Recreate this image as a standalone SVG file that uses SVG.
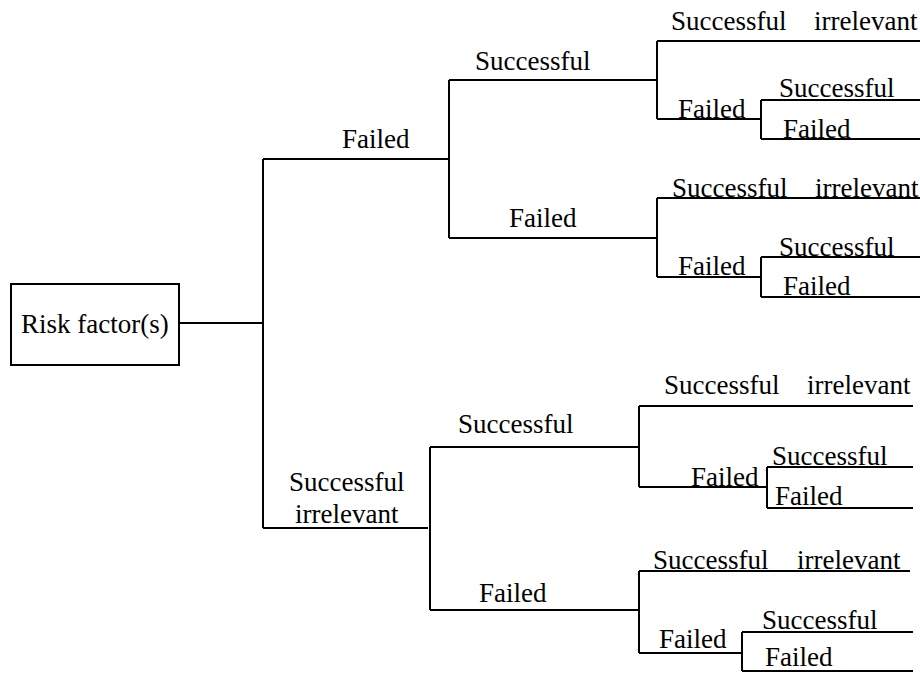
<svg xmlns="http://www.w3.org/2000/svg" width="920" height="673" viewBox="0 0 920 673">
  <style>
    .ln { stroke: #000; stroke-width: 2; fill: none; }
    .box { stroke: #000; stroke-width: 2; fill: #fff; }
    text { font-family: "Liberation Serif", "Times New Roman", serif; font-size: 27px; fill: #000; }
  </style>
  <rect width="920" height="673" fill="#fff"/>

  <!-- tree connectors -->
  <g id="connectors">
    <path class="ln" d="M179 323H263M263 159V528M263 159H449M263 528H428"/>
    <!-- upper: Failed branch -->
    <path class="ln" d="M449 80V238M449 80H657M449 238H657"/>
    <path class="ln" d="M657 41V119M657 41H920M657 119H761M761 100V139M761 100H920M761 139H920"/>
    <path class="ln" d="M657 198V277M657 198H920M657 277H761M761 257V297M761 257H920M761 297H920"/>
    <!-- lower: Successful irrelevant branch -->
    <path class="ln" d="M430 447V610M430 447H639M430 610H639"/>
    <path class="ln" d="M639 406V487M639 406H913M639 487H767M767 467V508M767 467H913M767 508H913"/>
    <path class="ln" d="M639 571V653M639 571H910M639 653H742M742 632V671M742 632H913M742 671H913"/>
  </g>

  <g id="risk-factors">
    <rect class="box" x="11" y="284" width="168" height="81"/>
    <text x="21" y="333">Risk factor(s)</text>
  </g>

  <g id="first-failed">
    <text x="342" y="148">Failed</text>
  </g>
  <g id="first-failed-second-successful">
    <text x="475" y="70">Successful</text>
    <text x="671" y="30">Successful<tspan x="814">irrelevant</tspan></text>
    <text x="678" y="118">Failed</text>
    <text x="779" y="97">Successful</text>
    <text x="783" y="138">Failed</text>
  </g>
  <g id="first-failed-second-failed">
    <text x="509" y="227">Failed</text>
    <text x="672" y="197">Successful<tspan x="815">irrelevant</tspan></text>
    <text x="678" y="275">Failed</text>
    <text x="779" y="256">Successful</text>
    <text x="783" y="295">Failed</text>
  </g>

  <g id="first-successful">
    <text x="289" y="491">Successful</text>
    <text x="295" y="523">irrelevant</text>
  </g>
  <g id="first-successful-second-successful">
    <text x="458" y="433">Successful</text>
    <text x="664" y="394">Successful<tspan x="807">irrelevant</tspan></text>
    <text x="691" y="486">Failed</text>
    <text x="772" y="465">Successful</text>
    <text x="775" y="505">Failed</text>
  </g>
  <g id="first-successful-second-failed">
    <text x="479" y="602">Failed</text>
    <text x="653" y="569">Successful<tspan x="797">irrelevant</tspan></text>
    <text x="659" y="648">Failed</text>
    <text x="762" y="629">Successful</text>
    <text x="765" y="666">Failed</text>
  </g>
</svg>
